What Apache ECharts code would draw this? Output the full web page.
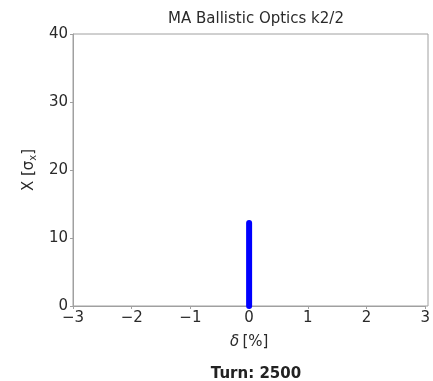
<!DOCTYPE html>
<html>
<head>
<meta charset="utf-8">
<script src="https://cdn.jsdelivr.net/npm/echarts@6/dist/echarts.min.js"></script>
<style>
html,body{margin:0;padding:0;background:#fff;}
#c{width:433px;height:381px;}
</style>
</head>
<body>
<div id="c"></div>
<script>
// Distribution of particle amplitude vs momentum offset
const deltaPct = [0, 0];
const amplitude = [0, 12.2];
const xTicks = [-3, -2, -1, 0, 1, 2, 3];
const yTicks = [0, 10, 20, 30, 40];

const chart = echarts.init(document.getElementById('c'), null, {renderer: 'canvas'});
const font = 'DejaVu Sans';
const axisColor = '#a0a0a0';
const textColor = '#2a2a2a';

chart.setOption({
  animation: false,
  backgroundColor: '#fff',
  title: [
    {text: 'MA Ballistic Optics k2/2', left: 251, top: 7, textAlign: 'center',
     textStyle: {fontFamily: font, fontSize: 15, fontWeight: 'normal', color: textColor}},
    {text: 'Turn: 2500', left: 251, top: 362, textAlign: 'center',
     textStyle: {fontFamily: font, fontSize: 15, fontWeight: 'bold', color: '#222'}}
  ],
  grid: {left: 73, right: 5, top: 34, bottom: 75, containLabel: false},
  xAxis: {
    type: 'value', min: xTicks[0], max: xTicks[xTicks.length - 1], interval: 1,
    name: '{i|δ} {a|[%]}', nameLocation: 'middle', nameGap: 29,
    nameTextStyle: {rich: {
      i: {fontFamily: font, fontSize: 15, color: textColor, fontStyle: 'italic'},
      a: {fontFamily: font, fontSize: 15, color: textColor}
    }},
    axisLine: {show: true, onZero: false, lineStyle: {color: axisColor, width: 1}},
    axisTick: {show: true, length: 3, lineStyle: {color: axisColor}},
    axisLabel: {fontFamily: font, fontSize: 15, color: textColor, margin: 5,
      formatter: v => (v < 0 ? '\u2212' + Math.abs(v) : String(v))},
    splitLine: {show: false}
  },
  yAxis: {
    type: 'value', min: yTicks[0], max: yTicks[yTicks.length - 1], interval: 10,
    name: '{a|X [σ}{s|x}{a|]}', nameLocation: 'middle', nameGap: 32,
    nameTextStyle: {rich: {
      a: {fontFamily: font, fontSize: 15, color: textColor},
      s: {fontFamily: font, fontSize: 10, color: textColor, verticalAlign: 'bottom', padding: [7, 0, 0, 0]}
    }},
    axisLine: {show: true, onZero: false, lineStyle: {color: axisColor, width: 1}},
    axisTick: {show: true, length: 3, lineStyle: {color: axisColor}},
    axisLabel: {fontFamily: font, fontSize: 15, color: textColor, margin: 5},
    splitLine: {show: false}
  },
  series: [{
    type: 'line',
    data: deltaPct.map((d, i) => [d, amplitude[i]]),
    symbol: 'none',
    lineStyle: {color: '#0000ff', width: 6, cap: 'round'},
    z: 1
  }],
  graphic: [{
    type: 'rect', shape: {x: 73, y: 34, width: 355, height: 272},
    style: {fill: 'none', stroke: axisColor, lineWidth: 1}, silent: true, z: 0
  }]
});
</script>
</body>
</html>
